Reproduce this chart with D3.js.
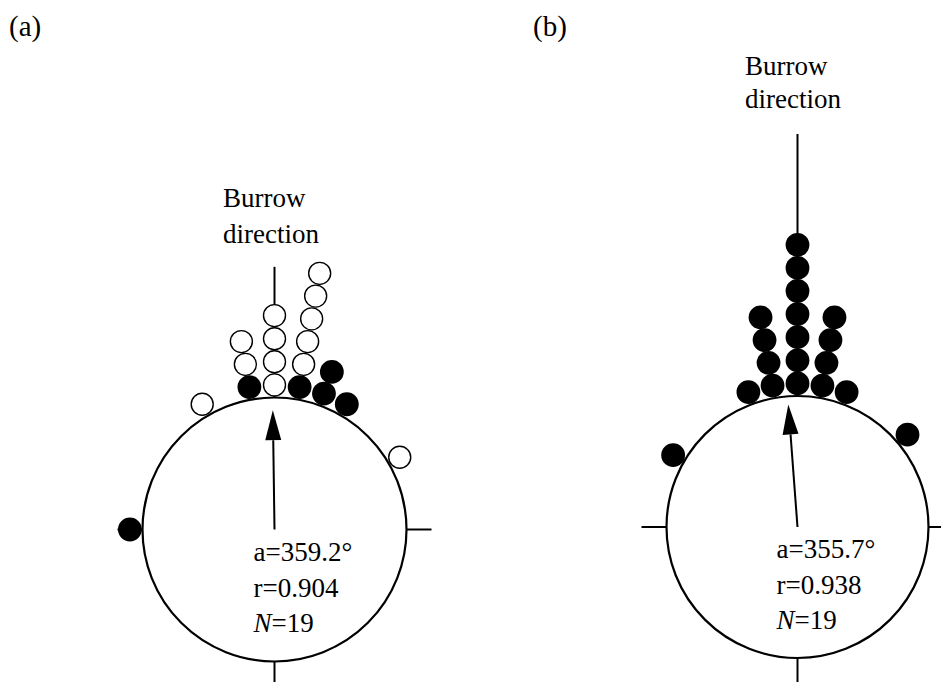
<!DOCTYPE html>
<html>
<head>
<meta charset="utf-8">
<script src="https://cdnjs.cloudflare.com/ajax/libs/d3/7.8.5/d3.min.js"></script>
<style>
body { margin: 0; background: #fff; }
</style>
</head>
<body>
<div id="chart"></div>
<script>
// (a) angle bins in degrees, with filled (inner) and open (outer) counts
const binsA = [270, 330, 350, 0, 10, 20, 30, 60];
const filledA = [1, 0, 1, 0, 1, 2, 1, 0];
const openA = [0, 1, 2, 4, 5, 0, 0, 1];
const statsA = ["a=359.2°", "r=0.904", "19"];
const meanA = 359.2, rA = 0.904;

// (b)
const binsB = [300, 340, 350, 0, 10, 20, 50];
const filledB = [1, 1, 4, 7, 4, 1, 1];
const openB = [0, 0, 0, 0, 0, 0, 0];
const statsB = ["a=355.7°", "r=0.938", "19"];
const meanB = 355.7, rB = 0.938;

const W = 941, H = 682;
const dotR = 11.3, gap = 23.1;
const serif = "'Liberation Serif', 'Times New Roman', Times, 'DejaVu Serif', serif";

const svg = d3.select("#chart").append("svg")
    .attr("width", W).attr("height", H)
    .attr("font-family", serif)
    .style("font-family", serif);

const angle = d3.scaleLinear().domain([0, 360]).range([0, 2 * Math.PI]);

function polar(cx, cy, d, deg) {
    var t = angle(deg);
    return [cx + d * Math.sin(t), cy - d * Math.cos(t)];
}

function build_dots(bins, filled, open) {
    var out = [];
    bins.forEach(function (deg, i) {
        var k = 0;
        for (var f = 0; f < filled[i]; f++) out.push({deg: deg, k: k++, fill: true});
        for (var o = 0; o < open[i]; o++) out.push({deg: deg, k: k++, fill: false});
    });
    return out;
}

function add_text(g, x, y, size, str) {
    return g.append("text")
        .attr("x", x).attr("y", y)
        .attr("font-family", serif)
        .attr("font-size", size)
        .attr("fill", "#000")
        .text(str);
}

function draw_panel(p) {
    var g = svg.append("g");
    var radial = d3.scaleLinear().domain([0, 1]).range([0, p.R]);
    var stackPos = d3.scaleLinear().domain([0, 1]).range([p.R + dotR + 1.3, p.R + dotR + 1.3 + gap]);

    // burrow direction line
    var top = polar(p.cx, p.cy, p.R * p.lineTop, 0);
    g.append("line")
        .attr("x1", p.cx).attr("y1", p.cy - p.R)
        .attr("x2", top[0]).attr("y2", top[1])
        .attr("stroke", "#000").attr("stroke-width", 2);

    // ticks at 90, 180, 270
    [90, 180, 270].forEach(function (deg) {
        var a = polar(p.cx, p.cy, p.R, deg), b = polar(p.cx, p.cy, p.R + 25, deg);
        g.append("line")
            .attr("x1", a[0]).attr("y1", a[1]).attr("x2", b[0]).attr("y2", b[1])
            .attr("stroke", "#000").attr("stroke-width", 2);
    });

    g.append("circle")
        .attr("cx", p.cx).attr("cy", p.cy).attr("r", p.R)
        .attr("fill", "none").attr("stroke", "#000").attr("stroke-width", 2.2);

    g.selectAll("circle.dot")
        .data(build_dots(p.bins, p.filled, p.open))
        .enter().append("circle")
        .attr("class", "dot")
        .attr("cx", function (d) { return polar(p.cx, p.cy, stackPos(d.k), d.deg)[0]; })
        .attr("cy", function (d) { return polar(p.cx, p.cy, stackPos(d.k), d.deg)[1]; })
        .attr("r", function (d) { return d.fill ? dotR + 0.6 : dotR - 0.3; })
        .attr("fill", function (d) { return d.fill ? "#000" : "#fff"; })
        .attr("stroke", "#000")
        .attr("stroke-width", function (d) { return d.fill ? 0 : 1.4; });

    // mean vector arrow
    var L = radial(p.r);
    var tip = polar(p.cx, p.cy, L, p.mean);
    var base = polar(p.cx, p.cy, L - 30, p.mean);
    var t = angle(p.mean);
    var px = Math.cos(t) * 8, py = Math.sin(t) * 8;
    g.append("line")
        .attr("x1", p.cx).attr("y1", p.cy).attr("x2", base[0]).attr("y2", base[1])
        .attr("stroke", "#000").attr("stroke-width", 2);
    g.append("path")
        .attr("d", d3.line()([tip, [base[0] + px, base[1] + py], [base[0] - px, base[1] - py]]) + "Z")
        .attr("fill", "#000");

    // stats
    var tx = p.cx - 21;
    add_text(g, tx, p.cy + 31, 27, p.stats[0]);
    add_text(g, tx, p.cy + 67, 27, p.stats[1]);
    var nt = add_text(g, tx, p.cy + 102, 27, null);
    nt.append("tspan").attr("font-style", "italic").text("N");
    nt.append("tspan").text("=" + p.stats[2]);

    // labels
    add_text(g, p.labelX, 36, 29, p.label);
    add_text(g, p.burrowX, p.burrowY[0], 27, "Burrow");
    add_text(g, p.burrowX, p.burrowY[1], 27, "direction");
}

draw_panel({cx: 274.5, cy: 529.5, R: 132, lineTop: 1.99, bins: binsA, filled: filledA, open: openA,
    mean: meanA, r: rA, stats: statsA, label: "(a)", labelX: 9, burrowX: 223, burrowY: [207, 243]});
draw_panel({cx: 797.5, cy: 527, R: 131, lineTop: 3.0, bins: binsB, filled: filledB, open: openB,
    mean: meanB, r: rB, stats: statsB, label: "(b)", labelX: 533, burrowX: 745, burrowY: [75, 108]});
</script>
</body>
</html>
